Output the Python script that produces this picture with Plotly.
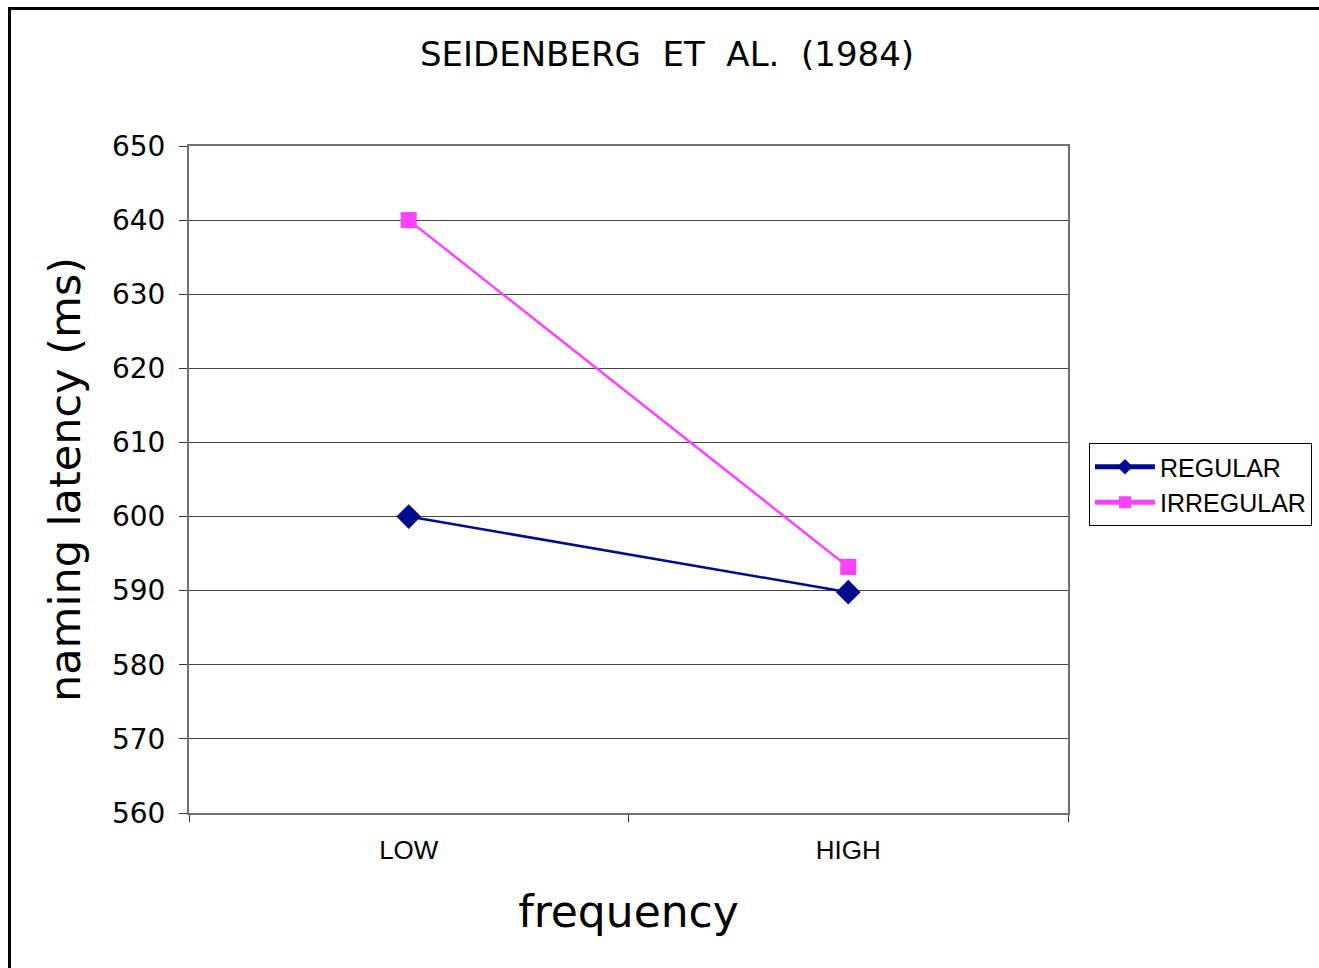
import plotly.graph_objects as go

categories = ["LOW", "HIGH"]
regular = [600, 589.8]
irregular = [640, 593.2]
y_ticks = [560, 570, 580, 590, 600, 610, 620, 630, 640, 650]

W, H = 1319, 968
L, R, T, B = 189, 1068, 146, 813

pw, ph = R - L, B - T
def px(x):
    return (x - L) / pw
def py(y):
    return (B - y) / ph

fig = go.Figure()
fig.add_trace(go.Scatter(
    x=categories, y=regular, name="REGULAR", mode="lines+markers",
    line=dict(color="#000C8C", width=2.5),
    marker=dict(symbol="diamond", size=19, color="#000C8C"),
))
fig.add_trace(go.Scatter(
    x=categories, y=irregular, name="IRREGULAR", mode="lines+markers",
    line=dict(color="#FF40FF", width=2.5),
    marker=dict(symbol="square", size=16, color="#FF40FF"),
))

fig.add_shape(type="rect", xref="paper", yref="paper",
              x0=px(9.5), x1=px(1340), y0=py(990), y1=py(8.5),
              line=dict(color="black", width=3), fillcolor="rgba(0,0,0,0)", layer="below")

fig.update_layout(
    width=W, height=H,
    margin=dict(l=L, r=W - R, t=T, b=H - B, autoexpand=False),
    paper_bgcolor="white", plot_bgcolor="white",
    title=dict(text="SEIDENBERG\u00a0\u00a0ET\u00a0\u00a0AL.\u00a0\u00a0(1984)",
               x=px(667), xref="paper", xanchor="center",
               y=1 - 54 / H, yanchor="middle",
               font=dict(family="DejaVu Sans", size=34, color="black")),
    showlegend=True,
    legend=dict(x=px(1089), y=py(443), xanchor="left", yanchor="top",
                bordercolor="black", borderwidth=1, bgcolor="white",
                font=dict(family="Liberation Sans, Arial", size=25, color="black"),
                tracegroupgap=0, itemsizing="constant", itemwidth=60,
                entrywidth=180, entrywidthmode="pixels"),
    font=dict(family="DejaVu Sans", color="black"),
)
fig.update_xaxes(
    type="category", range=[-0.5, 1.5],
    showline=True, linecolor="#707070", linewidth=2, mirror=True,
    ticks="outside", tickson="boundaries", ticklen=7, tickcolor="#333", tickwidth=1,
    showgrid=False, zeroline=False,
    tickfont=dict(family="Liberation Sans, Arial", size=26, color="black"),
    ticklabelstandoff=13,
    title=dict(text="frequency", font=dict(family="DejaVu Sans", size=44, color="black"), standoff=32),
)
fig.update_yaxes(
    range=[560, 650], tickvals=y_ticks,
    showline=True, linecolor="#707070", linewidth=2, mirror=True,
    ticks="outside", ticklen=8, tickcolor="#333", tickwidth=1,
    showgrid=True, gridcolor="#444", gridwidth=1, zeroline=False,
    tickfont=dict(family="DejaVu Sans", size=28, color="black"),
    ticklabelstandoff=8,
    title=dict(text="naming latency (ms)", font=dict(family="DejaVu Sans", size=43, color="black"), standoff=18),
)

fig.write_html("out.html", config={"displayModeBar": False},
               post_script="document.body.style.margin='0';document.body.style.overflow='hidden';")
